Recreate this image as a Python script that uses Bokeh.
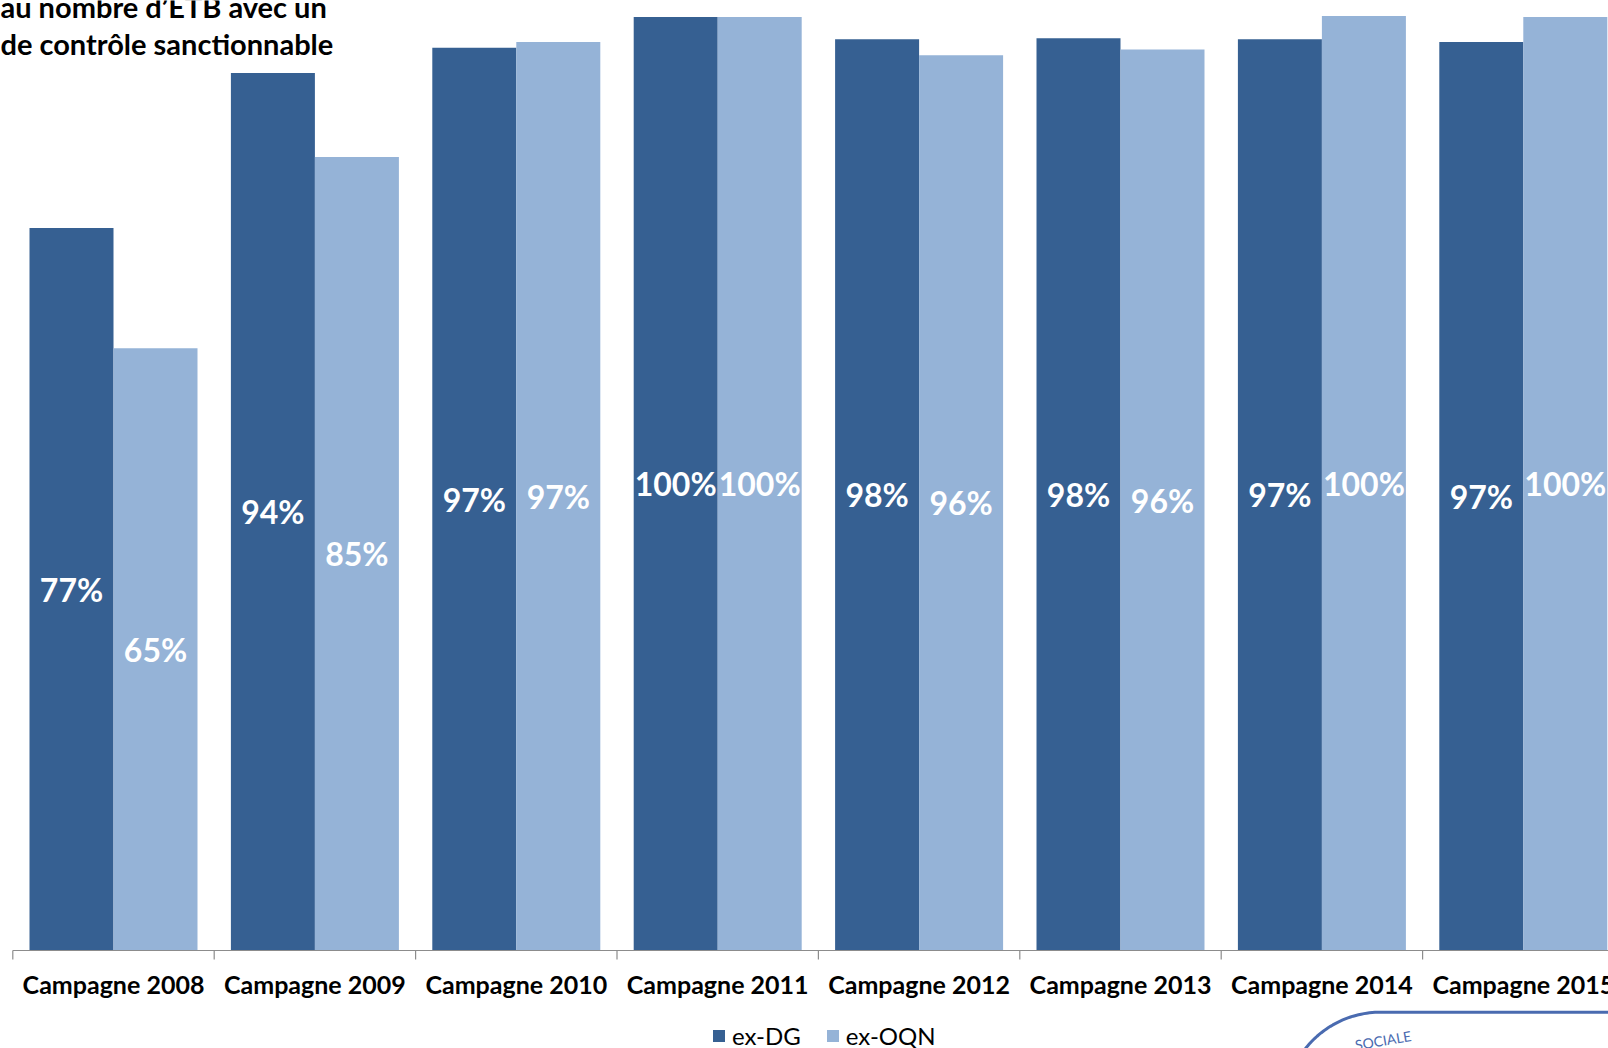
import numpy as np
from bokeh.plotting import figure
from bokeh.models import (Range1d, ColumnDataSource, Legend, LegendItem, Label, PolyAnnotation)
from bokeh.transform import dodge
from bokeh.core.properties import value
from bokeh.embed import file_html
from bokeh.resources import INLINE

# ---------------- data ----------------
categories = ["Campagne 2008", "Campagne 2009", "Campagne 2010", "Campagne 2011",
              "Campagne 2012", "Campagne 2013", "Campagne 2014", "Campagne 2015"]
ex_dg = [0.774, 0.940, 0.967, 1.000, 0.976, 0.977, 0.976, 0.973]
ex_oqn = [0.645, 0.850, 0.973, 1.000, 0.959, 0.965, 1.001, 1.000]
labels_dg = ["77%", "94%", "97%", "100%", "98%", "98%", "97%", "97%"]
labels_oqn = ["65%", "85%", "97%", "100%", "96%", "96%", "100%", "100%"]
series_names = ["ex-DG", "ex-OQN"]
title_lines = ["au nombre d\u2019ETB avec un", "de contr\u00f4le sanctionnable"]

DG_COLOR = "#366092"
OQN_COLOR = "#95B3D7"
AXIS_COLOR = "#8c8c8c"
FONT = "Lato"

n = len(categories)
centers = [i + 0.5 for i in range(n)]
src = ColumnDataSource(dict(
    x=centers, cat=categories,
    dg=ex_dg, oqn=ex_oqn,
    dg_mid=[v / 2 for v in ex_dg], oqn_mid=[v / 2 for v in ex_oqn],
    dg_lab=labels_dg, oqn_lab=labels_oqn,
))
bounds = ColumnDataSource(dict(x=list(range(n + 1)), y=[0] * (n + 1)))

W, H = 1608, 1048
AX0 = 12.3          # pixel where the category axis starts
AXIS_Y = 950        # pixel row of the category axis
cat_px = 201.4      # pixels per category
full_px = 933.6     # pixels for 100 %

p = figure(width=W, height=H,
           x_range=Range1d(-AX0 / cat_px, (W - AX0) / cat_px),
           y_range=Range1d(-(H - AXIS_Y) / full_px, AXIS_Y / full_px),
           output_backend="svg", toolbar_location=None,
           x_axis_location=None, y_axis_location=None,
           min_border=0)
p.outline_line_color = None
p.grid.visible = False
p.background_fill_color = "white"
p.border_fill_color = "white"

bw = 84 / cat_px
r_dg = p.vbar(x=dodge("x", -bw / 2, range=p.x_range), top="dg", width=bw, bottom=0,
              source=src, fill_color=DG_COLOR, line_color=None)
r_oqn = p.vbar(x=dodge("x", bw / 2, range=p.x_range), top="oqn", width=bw, bottom=0,
               source=src, fill_color=OQN_COLOR, line_color=None)

for xcol, ycol, tcol in ((-bw / 2, "dg_mid", "dg_lab"), (bw / 2, "oqn_mid", "oqn_lab")):
    p.text(x=dodge("x", xcol, range=p.x_range), y=ycol, text=tcol, source=src,
           text_color="white", text_font=value(FONT), text_font_style="bold",
           text_font_size="32px", text_align="center", text_baseline="middle")

# category axis: line, boundary ticks, labels
p.segment(x0=0, y0=0, x1=n, y1=0, line_color=AXIS_COLOR, line_width=1.2)
p.ray(x="x", y="y", length=9, length_units="screen", angle=-np.pi / 2,
      source=bounds, line_color=AXIS_COLOR, line_width=1.2)
p.text(x="x", y=0, text="cat", source=src, y_offset=33,
       text_color="black", text_font=value(FONT), text_font_style="bold",
       text_font_size="25px", text_align="center", text_baseline="middle")

legend = Legend(items=[LegendItem(label=series_names[0], renderers=[r_dg]),
                       LegendItem(label=series_names[1], renderers=[r_oqn])],
                orientation="horizontal", location=(711, -2),
                glyph_width=15, glyph_height=15, label_height=15,
                label_standoff=6, spacing=24, padding=0, margin=0,
                border_line_color=None, background_fill_alpha=0,
                label_text_font=FONT, label_text_font_size="24px",
                label_text_color="#000000")
p.add_layout(legend, "center")

# cropped title at top-left
for yb, line in zip((6, 43), title_lines):
    p.add_layout(Label(x=0, y=H - yb, x_units="screen", y_units="screen",
                       text=line, text_font=FONT, text_font_style="bold",
                       text_font_size="29px", text_color="black",
                       text_baseline="alphabetic"))

# cropped logo frame at bottom-right
LOGO = "#4a6bb0"
R = 95.6
cx, cy = 1380.0, 1011.7 + R
ang = np.linspace(np.pi * 0.86, np.pi / 2, 40)
arc_x = [cx + R * np.cos(a) for a in ang]
arc_y = [cy - R * np.sin(a) for a in ang]
xs = arc_x + [W + 30, W + 30, arc_x[0]]
ys_c = arc_y + [1011.7, H + 60, H + 60]
p.add_layout(PolyAnnotation(xs=xs, ys=[H - y for y in ys_c], xs_units="screen",
                            ys_units="screen", fill_alpha=0, line_color=LOGO,
                            line_alpha=1.0, line_width=3))
p.add_layout(Label(x=1356, y=H - 1053, x_units="screen", y_units="screen",
                   text="SOCIALE", text_font=FONT, text_font_size="14px",
                   text_color=LOGO, angle=0.17))

open("out.html", "w").write(file_html(p, INLINE))
